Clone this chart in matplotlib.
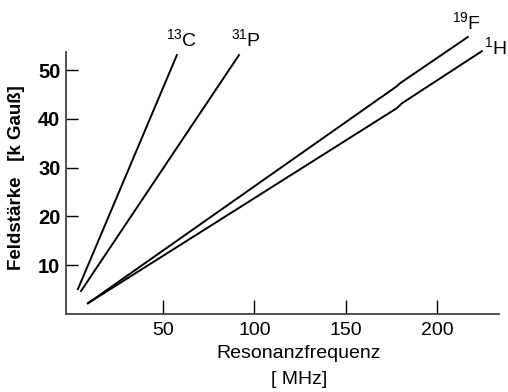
import matplotlib
matplotlib.use("Agg")
import matplotlib.pyplot as plt

plt.rcParams['font.family'] = ['Liberation Sans', 'DejaVu Sans']
plt.rcParams['mathtext.fontset'] = 'custom'
plt.rcParams['mathtext.rm'] = 'Liberation Sans'

# Resonanzfrequenz [MHz] vs. Feldstärke [k Gauß]
c13_x = [3.4, 57.6]
c13_y = [5.1, 53.1]
p31_x = [5.1, 91.6]
p31_y = [4.7, 53.1]
f19_x = [8.9, 178.0, 179.7, 216.9]
f19_y = [2.2, 46.7, 47.3, 56.8]
h1_x = [8.9, 178.0, 180.8, 224.6]
h1_y = [2.2, 42.2, 43.2, 53.9]

x_ticks = [50, 100, 150, 200]
y_ticks = [10, 20, 30, 40, 50]

fig = plt.figure(figsize=(5.08, 3.92), dpi=100)
ax = fig.add_axes([0.130, 0.199, 0.852, 0.668])

for xs, ys in [(c13_x, c13_y), (p31_x, p31_y), (f19_x, f19_y), (h1_x, h1_y)]:
    ax.plot(xs, ys, color='black', lw=1.4, clip_on=False)

ax.set_xlim(-3.1, 233.9)
ax.set_ylim(0, 53.7)
ax.set_xticks(x_ticks)
ax.set_yticks(y_ticks)
ax.tick_params(axis='x', direction='in', length=10, width=1, pad=6, labelsize=14)
ax.tick_params(axis='y', direction='in', length=8.5, width=1, pad=4, labelsize=14.5)
for lab in ax.get_yticklabels():
    lab.set_fontweight('bold')

for s in ['top', 'right']:
    ax.spines[s].set_visible(False)
for s in ['left', 'bottom']:
    ax.spines[s].set_color('#444444')
    ax.spines[s].set_linewidth(1.3)

# isotope labels
ax.text(60.4, 54.7, r'$^{13}$C', fontsize=14, ha='center', va='baseline')
ax.text(95.4, 54.7, r'$^{31}$P', fontsize=14, ha='center', va='baseline')
ax.text(216.4, 58.2, r'$^{19}$F', fontsize=14, ha='center', va='baseline')
ax.text(225.5, 53.1, r'$^{1}$H', fontsize=14, ha='left', va='baseline')

fig.text(299/508, 1 - 353/392, 'Resonanzfrequenz', fontsize=14, ha='center', va='center')
fig.text(299/508, 1 - 380/392, '[ MHz]', fontsize=14, ha='center', va='center')
fig.text(17/508, 1 - 178/392, 'Feldstärke   [k Gauß]', fontsize=13.5, fontweight='bold',
         rotation=90, ha='center', va='center')

fig.savefig('out.png', dpi=100)
